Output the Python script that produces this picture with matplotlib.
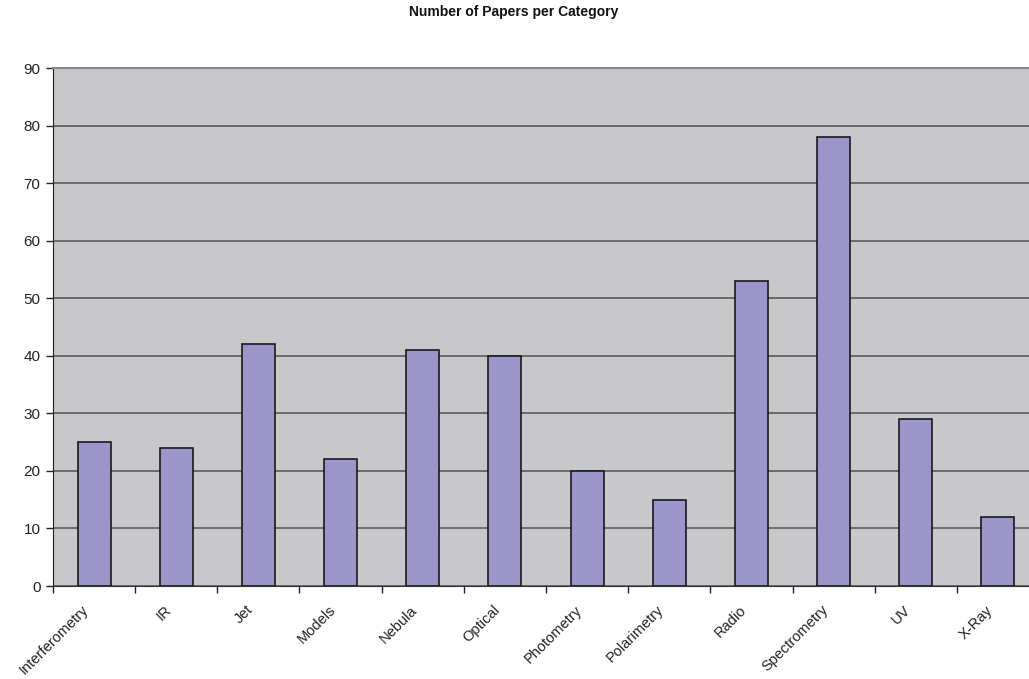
import matplotlib.pyplot as plt
import matplotlib.transforms as mtransforms
import numpy as np

plt.rcParams['font.family'] = ['Liberation Sans', 'DejaVu Sans']

categories = ["Interferometry", "IR", "Jet", "Models", "Nebula", "Optical",
              "Photometry", "Polarimetry", "Radio", "Spectrometry", "UV", "X-Ray"]
papers = [25, 24, 42, 22, 41, 40, 20, 15, 53, 78, 29, 12]

fig = plt.figure(figsize=(10.29, 6.79), dpi=100)
# la zone de tracé déborde un peu à droite, comme dans l'original
ax = fig.add_axes([53 / 1029, 93 / 679, 986 / 1029, 518 / 679])

x = np.arange(len(categories))
ax.set_facecolor('#C8C8CA')
ax.bar(x, papers, width=0.4, color='#9B95C9', edgecolor='#1a1a1a', linewidth=1.2, zorder=3)

ax.set_xlim(-0.5, len(categories) - 0.5)
ax.set_ylim(0, 90)
ax.set_yticks(range(0, 91, 10))
ax.yaxis.grid(True, color='#5a5a5a', linewidth=1.2, zorder=1)
ax.set_axisbelow(True)

# ticks aux limites des catégories, étiquettes au centre
ax.set_xticks(np.arange(-0.5, len(categories), 1.0))
ax.set_xticklabels([])
ax.set_xticks(x, minor=True)
ax.set_xticklabels(categories, minor=True, rotation=45, ha='right', va='center',
                   rotation_mode='anchor', fontsize=10.5, color='#222222')
ax.tick_params(axis='x', which='minor', length=0, pad=15)
ax.tick_params(axis='x', which='major', length=5, width=1, direction='out', color='#222222')
ax.tick_params(axis='y', length=5, width=1, direction='out', labelsize=11,
               color='#222222', labelcolor='#222222', pad=4)

# petit décalage des étiquettes vers la gauche
offset = mtransforms.ScaledTranslation(-0.075, -0.01, fig.dpi_scale_trans)
for lab in ax.get_xticklabels(minor=True):
    lab.set_transform(lab.get_transform() + offset)

ax.spines['top'].set_color('#888888')
ax.spines['top'].set_linewidth(1.5)
ax.spines['right'].set_visible(False)
ax.spines['left'].set_color('#222222')
ax.spines['bottom'].set_color('#333333')

fig.text(514 / 1029, 1 - 12 / 679, "Number of Papers per Category", ha='center', va='center',
         fontsize=10, fontweight='bold', color='#111111')

plt.savefig("out.png", dpi=100)
